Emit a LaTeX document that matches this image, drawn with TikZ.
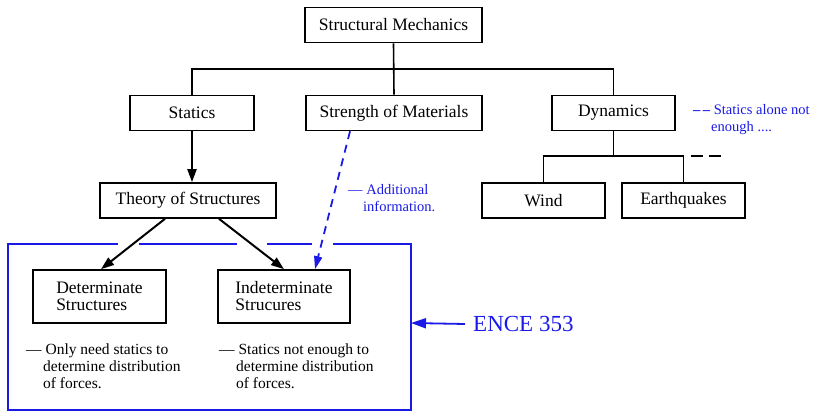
\documentclass[tikz,border=0pt]{standalone}
\usepackage{fontspec}
\setmainfont{Liberation Serif}
\usepackage{tikz}
\usetikzlibrary{arrows.meta,calc}
\usepackage{xcolor}
\definecolor{noteblue}{HTML}{1a1ae6}
\newcommand{\boxfont}{\fontsize{17.5}{17}\selectfont}
\newcommand{\notefont}{\fontsize{14.5}{17}\selectfont}
\newcommand{\remfont}{\fontsize{15.5}{17}\selectfont}

\begin{document}
\begin{tikzpicture}[x=1pt,y=-1pt,>={Triangle[length=13pt,width=9pt]},
  box/.style={draw,line width=1.6pt,minimum height=35pt,inner sep=0pt,font=\boxfont},
  link/.style={line width=1.6pt},
  arr/.style={->,line width=2pt},
  note/.style={noteblue,font=\notefont,align=left,anchor=north west,inner sep=0pt},
  remark/.style={font=\remfont,align=left,anchor=north west,inner sep=0pt},
  frame/.style={noteblue,line width=1.6pt}]
  \useasboundingbox (0,0) rectangle (825,411);
  % boxes
  \node[box,minimum width=177pt] (mech) at (393.5,25) {Structural Mechanics};
  \node[box,minimum width=124pt] (stat) at (192,113) {Statics};
  \node[box,minimum width=176pt] (som) at (394,113) {Strength of Materials};
  \node[box,minimum width=123pt] (dyn) at (613.5,113) {Dynamics};
  \node[box,minimum width=176pt] (theory) at (188,200.5) {Theory of Structures};
  \node[box,minimum width=123pt] (wind) at (543.5,200.5) {Wind};
  \node[box,minimum width=123pt] (quake) at (683.5,200.5) {Earthquakes};
  \node[box,minimum width=133pt,minimum height=53pt,align=left] (det) at (99.5,296.5) {Determinate\\Structures};
  \node[box,minimum width=132pt,minimum height=53pt,align=left] (indet) at (284,296.5) {Indeterminate\\Strucures};
  % tree lines
  \coordinate (bus) at (394,69);
  \coordinate (sub) at (613.5,156);
  \draw[link] (mech.south) -- (som.north);
  \draw[link] (stat.north) |- (bus) -| (dyn.north);
  \draw[link] (dyn.south) -- (sub);
  \draw[link] (wind.north) |- (sub) -| (quake.north);
  \coordinate (subend) at (quake.north |- sub);
  \draw[link,dash pattern=on 12pt off 6pt] ($(subend)+(7,0)$) -- ++(31,0);
  % arrows
  \draw[arr] (stat.south) -- (stat.south |- theory.north);
  \draw[arr] ([xshift=-23pt]theory.south) -- ([xshift=1.5pt]det.north);
  \draw[arr] ([xshift=31pt]theory.south) -- (indet.north);
  \draw[->,noteblue,line width=1.8pt,dash pattern=on 8pt off 6pt,>={Triangle[length=13pt,width=8pt]}]
    ([xshift=-44pt]som.south) -- ([xshift=31pt]indet.north);
  % blue frame with gaps
  \draw[frame] (118,244) -- (8,244) -- (8,410) -- (411,410) -- (411,244) -- (333,244);
  \draw[frame] (139,244) -- (237,244);
  \draw[frame] (267,244) -- (312,244);
  \coordinate (frameR) at (411,323);
  \node[noteblue,font=\fontsize{23}{23}\selectfont,anchor=west,inner sep=0pt] (ence) at (473,324) {ENCE 353};
  \draw[->,noteblue,line width=1.8pt,>={Triangle[length=15pt,width=10pt]}] ([xshift=-8pt]ence.west) -- (frameR);
  % notes
  \node[note] (alone) at (693,104) {\textbf{--\,--} Statics alone not\\\hspace*{18pt}enough ....};
  \node[note] (addinfo) at (348,184) {--- Additional\\\hspace*{15pt}information.};
  \node[remark] (detnote) at (26,344) {--- Only need statics to\\\hspace*{17pt}determine distribution\\\hspace*{17pt}of forces.};
  \node[remark] (indetnote) at (219,344) {--- Statics not enough to\\\hspace*{17pt}determine distribution\\\hspace*{17pt}of forces.};
\end{tikzpicture}
\end{document}
